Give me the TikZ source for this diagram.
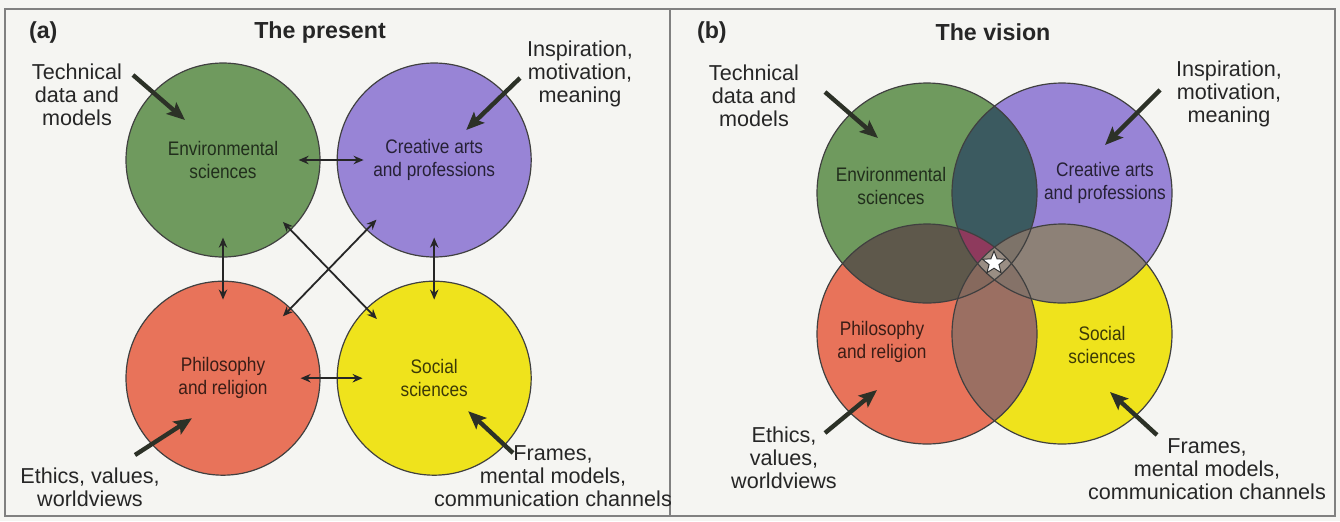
\documentclass[tikz,border=0pt]{standalone}
\usepackage{fontspec}
\setmainfont{Liberation Sans}
\newfontfamily\narrowsf[FakeStretch=0.88]{Liberation Sans}
\usetikzlibrary{arrows.meta,positioning,shapes.geometric,backgrounds}

\definecolor{paper}{HTML}{F5F5F2}
\definecolor{rule}{HTML}{808080}
\definecolor{ink}{HTML}{2C3127}
\definecolor{envc}{HTML}{6F9A5E}
\definecolor{artc}{HTML}{9884D6}
\definecolor{philc}{HTML}{E8735A}
\definecolor{socc}{HTML}{EFE31C}
\definecolor{envart}{HTML}{3B5A60}
\definecolor{envphil}{HTML}{5E584B}
\definecolor{artsoc}{HTML}{8D8177}
\definecolor{philsoc}{HTML}{9B6F62}
\definecolor{envartphil}{HTML}{8E3A5D}
\definecolor{envartsoc}{HTML}{7D7369}
\definecolor{envphilsoc}{HTML}{86695D}
\definecolor{artphilsoc}{HTML}{857268}
\definecolor{allfour}{HTML}{9A8E84}

\begin{document}
\begin{tikzpicture}[
    x=0.5pt, y=-0.5pt,
    disc/.style={circle, draw=black!75, line width=0.6pt, inner sep=0pt, minimum size=97pt, align=center, font=\narrowsf\fontsize{9.8}{11.5}\selectfont},
    rim/.style={circle, draw=black!75, line width=0.6pt, inner sep=0pt, minimum size=110pt},
    intext/.style={align=center, font=\narrowsf\fontsize{9.8}{11.5}\selectfont},
    lbl/.style={align=center, text=black!85, font=\fontsize{10.8}{11.6}\selectfont},
    paneltitle/.style={text=black!85, font=\bfseries\fontsize{11.6}{13}\selectfont},
    feed/.style={draw=ink, line width=2.2pt, -{Stealth[length=9pt,width=7.5pt,inset=1.8pt]}},
    link/.style={draw=black!85, line width=0.9pt, {Stealth[length=5pt,width=4.2pt]}-{Stealth[length=5pt,width=4.2pt]}},
]
\begin{scope}[on background layer]
\fill[paper] (0,0) rectangle (1340,521);
\draw[rule, line width=0.8pt] (5,9) rectangle (1335,516);
\draw[rule, line width=0.8pt] (670,9) -- (670,516);
\end{scope}

% (a) the present
\node[paneltitle, anchor=west] (tagA) at (22,32) {(a)};
\node[paneltitle] (titleA) at (320,32) {The present};

\node[disc, fill=envc, text=envc!30!black] (env) at (223,160) {Environmental\\sciences};
\node[disc, fill=artc, text=artc!25!black, right=8pt of env] (art) {Creative arts\\and professions};
\node[disc, fill=philc, text=philc!25!black, below=11.5pt of env] (phil) {Philosophy\\and religion};
\node[disc, fill=socc, text=socc!25!black, below=11.5pt of art] (soc) {Social\\sciences};

\draw[link, shorten <=-11pt, shorten >=-13.5pt] (env) -- (art);
\draw[link, shorten <=-10pt, shorten >=-13pt] (phil) -- (soc);
\draw[link, shorten <=-10pt, shorten >=-9.5pt] (env) -- (phil);
\draw[link, shorten <=-10pt, shorten >=-9.5pt] (art) -- (soc);
\draw[link, shorten <=-5.7pt, shorten >=-7.6pt] (env) -- (soc);
\draw[link, shorten <=-7.3pt, shorten >=-5.7pt] (art) -- (phil);

\node[lbl] (techA) at (77,95) {Technical\\data and\\models};
\node[lbl] (inspA) at (580,74) {Inspiration,\\motivation,\\meaning};
\node[lbl] (ethA) at (90,487) {Ethics, values,\\worldviews};
\node[lbl] (frameA) at (553,476) {Frames,\\mental models,\\communication channels};

\coordinate (techAs) at (133,75);
\coordinate (inspAs) at (520,78);
\coordinate (ethAs) at (135,455);
\coordinate (frameAs) at (513,453);
\draw[feed] (techAs) -- ([shift={(-38,-40)}]env.center);
\draw[feed] (inspAs) -- ([shift={(32,-30)}]art.center);
\draw[feed] (ethAs) -- ([shift={(-31,40)}]phil.center);
\draw[feed] (frameAs) -- ([shift={(34,33)}]soc.center);

% (b) the vision
\node[paneltitle, anchor=west] (tagB) at (690,32) {(b)};
\node[paneltitle] (titleB) at (993,32) {The vision};

\node[rim] (gB) at (927,193) {};
\node[rim] (pB) at (1062,193) {};
\node[rim] (rB) at (927,334) {};
\node[rim] (yB) at (1062,334) {};

\begin{scope}[on background layer]
\fill[envc] (gB.center) circle[radius=110];
\fill[artc] (pB.center) circle[radius=110];
\fill[philc] (rB.center) circle[radius=110];
\fill[socc] (yB.center) circle[radius=110];
\begin{scope}
\clip (gB.center) circle[radius=110];
\fill[envart] (pB.center) circle[radius=110];
\fill[envphil] (rB.center) circle[radius=110];
\end{scope}
\begin{scope}
\clip (yB.center) circle[radius=110];
\fill[artsoc] (pB.center) circle[radius=110];
\fill[philsoc] (rB.center) circle[radius=110];
\end{scope}
\begin{scope}
\clip (gB.center) circle[radius=110];
\clip (pB.center) circle[radius=110];
\fill[envartphil] (rB.center) circle[radius=110];
\fill[envartsoc] (yB.center) circle[radius=110];
\end{scope}
\begin{scope}
\clip (rB.center) circle[radius=110];
\clip (yB.center) circle[radius=110];
\fill[envphilsoc] (gB.center) circle[radius=110];
\fill[artphilsoc] (pB.center) circle[radius=110];
\end{scope}
\begin{scope}
\clip (gB.center) circle[radius=110];
\clip (pB.center) circle[radius=110];
\clip (rB.center) circle[radius=110];
\fill[allfour] (yB.center) circle[radius=110];
\end{scope}
\end{scope}

\node[star, star points=5, star point ratio=2.3, draw=black!80, fill=white, line width=0.5pt, minimum size=12pt, inner sep=0pt] (hub) at (994,263) {};

\node[intext, text=envc!30!black] (gBt) at (891,186) {Environmental\\sciences};
\node[intext, text=artc!25!black] (pBt) at (1105,183) {Creative arts\\and professions};
\node[intext, text=philc!25!black] (rBt) at (882,342) {Philosophy\\and religion};
\node[intext, text=socc!25!black] (yBt) at (1102,345) {Social\\sciences};

\node[lbl] (techB) at (754,96) {Technical\\data and\\models};
\node[lbl] (inspB) at (1229,94) {Inspiration,\\motivation,\\meaning};
\node[lbl] (ethB) at (784,458) {Ethics,\\values,\\worldviews};
\node[lbl] (frameB) at (1207,469) {Frames,\\mental models,\\communication channels};

\coordinate (techBs) at (825,92);
\coordinate (inspBs) at (1160,90);
\coordinate (ethBs) at (825,433);
\coordinate (frameBs) at (1157,435);
\draw[feed] (techBs) -- ([shift={(-49,-55)}]gB.center);
\draw[feed] (inspBs) -- ([shift={(43,-48)}]pB.center);
\draw[feed] (ethBs) -- ([shift={(-50,56)}]rB.center);
\draw[feed] (frameBs) -- ([shift={(48,58)}]yB.center);
\end{tikzpicture}
\end{document}
